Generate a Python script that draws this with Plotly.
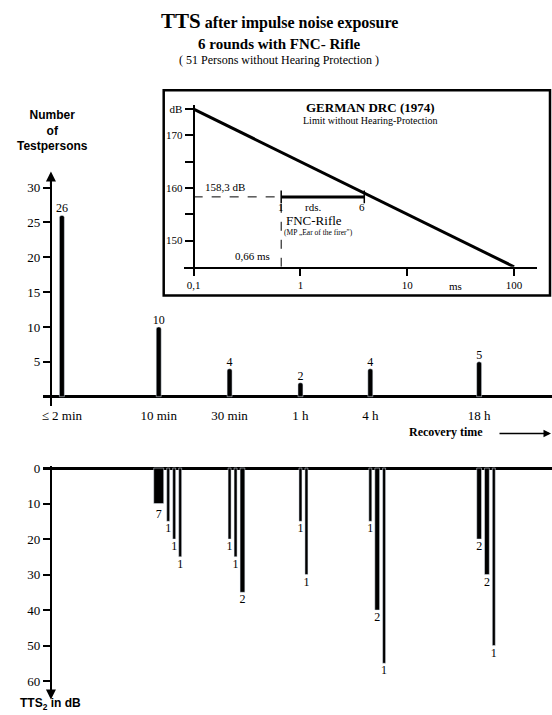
import plotly.graph_objects as go

W, H = 552, 715

# ---------------- data ----------------
recovery_times = ["≤ 2 min", "10 min", "30 min", "1 h", "4 h", "18 h"]
persons = [26, 10, 4, 2, 4, 5]

# TTS2 (dB) reached and number of persons, per recovery-time slot
tts_10min = [10, 15, 20, 25]
n_10min = [7, 1, 1, 1]
tts_30min = [20, 25, 35]
n_30min = [1, 1, 2]
tts_1h = [15, 30]
n_1h = [1, 1]
tts_4h = [15, 40, 55]
n_4h = [1, 2, 1]
tts_18h = [20, 30, 50]
n_18h = [2, 2, 1]

count_ticks = [5, 10, 15, 20, 25, 30]
tts_ticks = [0, 10, 20, 30, 40, 50, 60]

# inset: German DRC (1974)
drc_duration_ms = [0.1, 100]
drc_limit_db = [175, 145]
fnc_level_db = 158.3
fnc_duration_ms = 0.66
fnc_rounds = 6
inset_y_ticks = [150, 155, 160, 165, 170, 175]
inset_y_labels = ["150", "", "160", "", "170", "dB"]
inset_x_ticks = [0.1, 1, 10, 100]
inset_x_labels = ["0,1", "1", "10", "100"]

# ---------------- layout helpers ----------------
SERIF = "Liberation Serif, Times New Roman, serif"
SANS = "Liberation Sans, Arial, sans-serif"

# schematic (non-uniform) positions of the recovery-time slots on the x axis
slot_x = [1.1, 10.8, 17.9, 25.0, 32.0, 42.9]
X_RANGE = [-0.8, 50.2]
bar_w = {1: 0.3, 2: 0.48, 7: 1.0}
gap = 0.3


def px(x):
    return x / W


def py(y):
    return 1 - y / H


groups = [
    (1, tts_10min, n_10min),
    (2, tts_30min, n_30min),
    (3, tts_1h, n_1h),
    (4, tts_4h, n_4h),
    (5, tts_18h, n_18h),
]
bx, by, bwid, btxt = [], [], [], []
for slot, tts, n in groups:
    cursor = slot_x[slot] - bar_w[n[0]] / 2
    for t, c in zip(tts, n):
        w = bar_w[c]
        bx.append(cursor + w / 2)
        by.append(t)
        bwid.append(w)
        btxt.append(str(c))
        cursor += w + gap

fig = go.Figure()
label_font = dict(family=SERIF, size=12, color="black")

# top: number of test persons
fig.add_trace(go.Bar(
    x=slot_x, y=persons, width=0.5, text=[str(p) for p in persons],
    textposition="outside", constraintext="none", cliponaxis=False,
    textfont=label_font, outsidetextfont=label_font,
    marker=dict(color="black", cornerradius=2),
    xaxis="x", yaxis="y", hoverinfo="skip", showlegend=False,
))

# bottom: TTS2 distribution
fig.add_trace(go.Bar(
    x=bx, y=by, width=bwid, text=btxt,
    textposition="outside", constraintext="none", cliponaxis=False,
    textfont=label_font, outsidetextfont=label_font,
    marker=dict(color="black"),
    xaxis="x2", yaxis="y2", hoverinfo="skip", showlegend=False,
))

# inset traces
fig.add_trace(go.Scatter(
    x=drc_duration_ms, y=drc_limit_db, mode="lines",
    line=dict(color="black", width=3), xaxis="x3", yaxis="y3",
    hoverinfo="skip", showlegend=False,
))
fig.add_trace(go.Scatter(
    x=[drc_duration_ms[0], fnc_duration_ms], y=[fnc_level_db, fnc_level_db],
    mode="lines", line=dict(color="black", width=1, dash="dash"),
    xaxis="x3", yaxis="y3", hoverinfo="skip", showlegend=False,
))
fig.add_trace(go.Scatter(
    x=[fnc_duration_ms, fnc_duration_ms], y=[drc_limit_db[-1], fnc_level_db],
    mode="lines", line=dict(color="black", width=1, dash="dash"),
    xaxis="x3", yaxis="y3", hoverinfo="skip", showlegend=False,
))
fig.add_trace(go.Scatter(
    x=[fnc_duration_ms, fnc_duration_ms * fnc_rounds], y=[fnc_level_db, fnc_level_db],
    mode="lines+markers", line=dict(color="black", width=3),
    marker=dict(symbol="line-ns", size=9, line=dict(color="black", width=1.5)),
    xaxis="x3", yaxis="y3", hoverinfo="skip", showlegend=False,
))

axis_common = dict(showgrid=False, color="black")

fig.update_layout(
    width=W, height=H, autosize=False,
    margin=dict(l=0, r=0, t=0, b=0),
    paper_bgcolor="white", plot_bgcolor="white",
    showlegend=False,
    xaxis=dict(
        domain=[px(42), 1], range=X_RANGE, anchor="y", zeroline=False, showline=False,
        tickvals=slot_x, ticktext=recovery_times, ticks="",
        tickfont=dict(family=SERIF, size=13, color="black"), **axis_common,
    ),
    yaxis=dict(
        domain=[py(403), py(172)], range=[-1.28, 31.58], anchor="free", position=px(50),
        showline=True, linewidth=2, linecolor="black",
        zeroline=True, zerolinewidth=3, zerolinecolor="black",
        tickvals=count_ticks, ticks="outside", ticklen=7, tickwidth=2, tickcolor="black",
        tickfont=dict(family=SERIF, size=13, color="black"), **axis_common,
    ),
    xaxis2=dict(
        domain=[px(42), 1], range=X_RANGE, anchor="y2", zeroline=False, showline=False,
        showticklabels=False, ticks="", **axis_common,
    ),
    yaxis2=dict(
        domain=[py(691.5), py(464.2)], range=[63, -0.5], anchor="free", position=px(50),
        showline=True, linewidth=2, linecolor="black",
        zeroline=True, zerolinewidth=3, zerolinecolor="black",
        tickvals=tts_ticks, ticks="outside", ticklen=7, tickwidth=2, tickcolor="black",
        tickfont=dict(family=SERIF, size=13, color="black"), **axis_common,
    ),
    xaxis3=dict(
        domain=[px(183), px(537)], type="log", range=[-1.0935, 2.215], anchor="y3",
        showline=True, linewidth=2.5, linecolor="black", zeroline=False,
        tickvals=inset_x_ticks, ticktext=inset_x_labels, ticks="outside", ticklen=7,
        tickwidth=2, tickcolor="black",
        tickfont=dict(family=SERIF, size=11, color="black"), **axis_common,
    ),
    yaxis3=dict(
        domain=[py(263), py(100)], range=[145, 175.75], anchor="free", position=px(193),
        showline=True, linewidth=2.5, linecolor="black", zeroline=False,
        tickvals=inset_y_ticks, ticktext=inset_y_labels, ticks="outside", ticklen=8,
        tickwidth=2, tickcolor="black",
        tickfont=dict(family=SERIF, size=11, color="black"), **axis_common,
    ),
)

# inset frame
fig.add_shape(type="rect", xref="paper", yref="paper",
              x0=px(163), x1=px(550), y0=py(292), y1=py(85),
              line=dict(color="black", width=2.5), fillcolor="rgba(0,0,0,0)", layer="below")

annotations = []


def txt(text, x, y, size, family=SERIF, xanchor="center"):
    annotations.append(dict(
        text=text, x=px(x), y=py(y - 1), xref="paper", yref="paper",
        xanchor=xanchor, yanchor="middle", showarrow=False,
        font=dict(family=family, size=size, color="black"),
    ))


# titles
txt("<b><span style='font-size:21px'>TTS</span> after impulse noise exposure</b>", 279, 16, 16)
txt("<b>6 rounds with FNC- Rifle</b>", 279, 39, 15)
txt("( 51 Persons without Hearing Protection )", 279, 55, 12)

txt("<b>Number<br>of<br>Testpersons</b>", 52, 127, 12, family=SANS)
txt("<b>TTS<sub>2</sub> in dB</b>", 50, 705, 12, family=SANS)
txt("<b>Recovery time</b>", 446, 431, 12)

# inset texts
txt("<b>GERMAN DRC (1974)</b>", 370, 103, 13)
txt("Limit without Hearing-Protection", 370, 116, 10)
txt("158,3 dB", 224, 184, 11)
txt("1", 281, 204, 11)
txt("rds.", 313, 204, 11)
txt(str(fnc_rounds), 362, 204, 11)
txt("FNC-Rifle", 314, 217, 13)
txt("(MP „Ear of the firer\")", 318, 229, 7.5)
txt("0,66 ms", 252, 253, 11)
txt("ms", 455, 283, 11)

# axis arrows
annotations.append(dict(x=0, y=32.3, ax=0, ay=30.0, xref="x", yref="y", axref="x", ayref="y",
                        text="", showarrow=True, arrowhead=2, arrowsize=1, arrowwidth=2,
                        arrowcolor="black"))
annotations.append(dict(x=0, y=65.2, ax=0, ay=62.0, xref="x2", yref="y2", axref="x2", ayref="y2",
                        text="", showarrow=True, arrowhead=2, arrowsize=1, arrowwidth=2,
                        arrowcolor="black"))
annotations.append(dict(x=px(551), y=py(431), ax=-53, ay=0, xref="paper", yref="paper",
                        axref="pixel", ayref="pixel", text="", showarrow=True, arrowhead=2,
                        arrowsize=1, arrowwidth=1.5, arrowcolor="black"))

fig.update_layout(annotations=annotations)

fig.write_html("out.html",
               config={"displayModeBar": False, "staticPlot": True},
               post_script="document.body.style.margin='0';document.body.style.overflow='hidden';")
